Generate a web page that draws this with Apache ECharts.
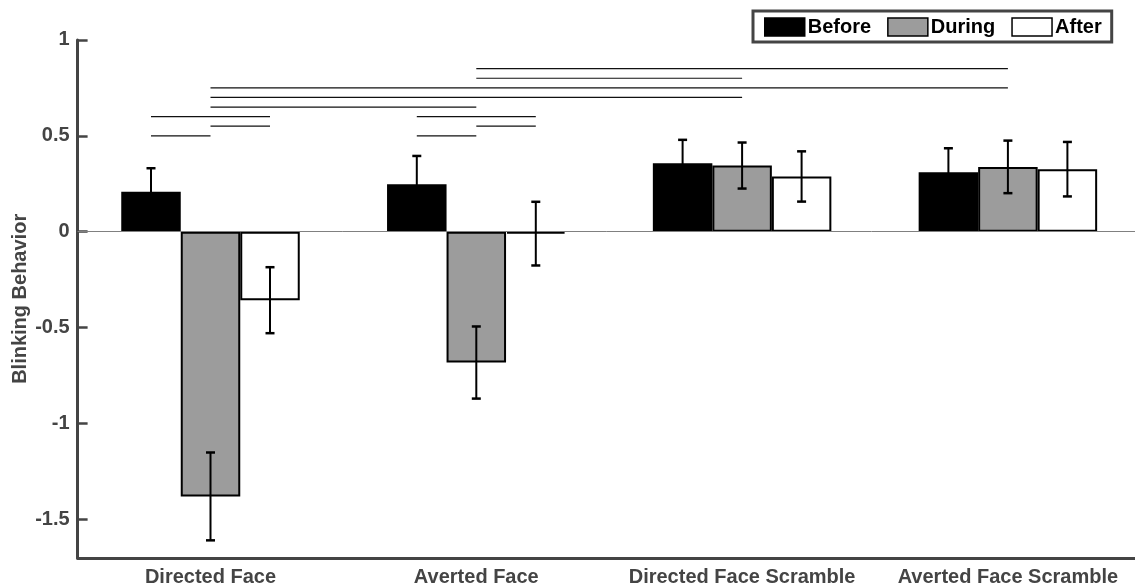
<!DOCTYPE html>
<html>
<head>
<meta charset="utf-8">
<script src="https://cdn.jsdelivr.net/npm/echarts@6/dist/echarts.min.js"></script>
<style>
  html, body { margin: 0; padding: 0; background: #fff; }
  #chart { width: 1135px; height: 588px; }
</style>
</head>
<body>
<div id="chart"></div>
<script>
// ---- data ----
const categories = ['Directed Face', 'Averted Face', 'Directed Face Scramble', 'Averted Face Scramble'];
const seriesNames = ['Before', 'During', 'After'];
const beforeVals = [0.208, 0.248, 0.357, 0.310];
const duringVals = [-1.380, -0.682, 0.345, 0.338];
const afterVals  = [-0.357, -0.010, 0.288, 0.326];
const beforeErr  = [0.123, 0.147, 0.122, 0.125];
const duringErr  = [0.229, 0.188, 0.120, 0.137];
const afterErr   = [0.172, 0.166, 0.131, 0.142];
const yTicks = [-1.5, -1, -0.5, 0, 0.5, 1];
// significance lines: [groupA, barA, groupB, barB, y]
const sigLines = [
  [1, 1, 3, 1, 0.85],
  [1, 1, 2, 1, 0.80],
  [0, 1, 3, 1, 0.75],
  [0, 1, 2, 1, 0.70],
  [0, 1, 1, 1, 0.65],
  [0, 0, 0, 2, 0.60], [1, 0, 1, 2, 0.60],
  [0, 1, 0, 2, 0.55], [1, 1, 1, 2, 0.55],
  [0, 0, 0, 1, 0.50], [1, 0, 1, 1, 0.50]
];

// ---- style ----
const FONT = "'Liberation Sans', Arial, Helvetica, sans-serif";
const AXIS_COLOR = '#444';
const FS = 20;
const BAR_W = 59.5;
const fills = ['#000000', '#9c9c9c', '#ffffff'];
const valueSets = [beforeVals, duringVals, afterVals];
const errSets = [beforeErr, duringErr, afterErr];

const chart = echarts.init(document.getElementById('chart'), null, { renderer: 'canvas' });

const series = [];
seriesNames.forEach((name, i) => {
  const s = {
    name: name,
    type: 'bar',
    data: valueSets[i],
    barWidth: BAR_W,
    barGap: '0%',
    itemStyle: { color: fills[i], borderColor: '#000', borderWidth: 2 },
    emphasis: { disabled: true },
    animation: false,
    z: 2
  };
  if (i === 0) {
    s.markLine = {
      silent: true,
      symbol: 'none',
      label: { show: false },
      lineStyle: { color: '#808080', width: 1, type: 'solid' },
      data: [{ yAxis: 0 }],
      animation: false
    };
  }
  series.push(s);
});

seriesNames.forEach((name, i) => {
  series.push({
    type: 'custom',
    name: name + ' err',
    data: categories.map((c, k) => [k, valueSets[i][k], errSets[i][k]]),
    encode: { x: 0, y: 1 },
    z: 5,
    silent: true,
    animation: false,
    renderItem: function (params, api) {
      const k = api.value(0), m = api.value(1), e = api.value(2);
      const c = api.coord([k, m]);
      const x = c[0] + (i - 1) * BAR_W;
      const yt = api.coord([k, m + e])[1];
      const yb = api.coord([k, m - e])[1];
      const cap = 4.5;
      return {
        type: 'group',
        children: [
          { type: 'line', shape: { x1: x, y1: yt, x2: x, y2: yb }, style: { stroke: '#000', lineWidth: 2 } },
          { type: 'line', shape: { x1: x - cap, y1: yt, x2: x + cap, y2: yt }, style: { stroke: '#000', lineWidth: 2.5 } },
          { type: 'line', shape: { x1: x - cap, y1: yb, x2: x + cap, y2: yb }, style: { stroke: '#000', lineWidth: 2.5 } }
        ]
      };
    }
  });
});

series.push({
  type: 'custom',
  name: 'sig',
  data: sigLines,
  encode: { x: [0, 2], y: 4 },
  z: 4,
  silent: true,
  animation: false,
  renderItem: function (params, api) {
    const y = api.value(4);
    const p1 = api.coord([api.value(0), y]);
    const p2 = api.coord([api.value(2), y]);
    const x1 = p1[0] + (api.value(1) - 1) * BAR_W;
    const x2 = p2[0] + (api.value(3) - 1) * BAR_W;
    return { type: 'line', shape: { x1: x1, y1: p1[1], x2: x2, y2: p1[1] }, style: { stroke: '#111', lineWidth: 1.2 } };
  }
});

chart.setOption({
  backgroundColor: '#fff',
  animation: false,
  textStyle: { fontFamily: FONT },
  legend: {
    data: seriesNames,
    left: 753,
    top: 11,
    orient: 'horizontal',
    icon: 'rect',
    itemWidth: 40,
    itemHeight: 18,
    itemGap: 16,
    padding: [6, 10, 5, 11],
    borderColor: '#444',
    borderWidth: 3,
    backgroundColor: '#fff',
    selectedMode: false,
    itemStyle: { borderColor: '#000', borderWidth: 1.5 },
    textStyle: { fontFamily: FONT, fontSize: FS, fontWeight: 'bold', color: '#000', padding: [0, 0, 0, -2] }
  },
  grid: { left: 77.6, top: 39.9, width: 1063.2, height: 517.9, containLabel: false, outerBoundsMode: 'none' },
  xAxis: {
    type: 'category',
    data: categories,
    position: 'bottom',
    axisLine: { show: true, onZero: false, lineStyle: { color: AXIS_COLOR, width: 3 } },
    axisTick: { show: false },
    axisLabel: { interval: 0, fontFamily: FONT, fontSize: FS, fontWeight: 'bold', color: AXIS_COLOR, margin: 10 },
    splitLine: { show: false }
  },
  yAxis: {
    type: 'value',
    min: -1.7,
    max: 1,
    name: 'Blinking Behavior',
    nameLocation: 'middle',
    nameGap: 47,
    nameMoveOverlap: false,
    nameTextStyle: { fontFamily: FONT, fontSize: FS, fontWeight: 'bold', color: AXIS_COLOR },
    axisLine: { show: true, lineStyle: { color: AXIS_COLOR, width: 3 } },
    axisTick: { show: true, inside: true, length: 10, lineStyle: { color: AXIS_COLOR, width: 2.5 }, customValues: yTicks },
    axisLabel: { fontFamily: FONT, fontSize: FS, fontWeight: 'bold', color: AXIS_COLOR, margin: 8, customValues: yTicks },
    splitLine: { show: false }
  },
  series: series
});
</script>
</body>
</html>
